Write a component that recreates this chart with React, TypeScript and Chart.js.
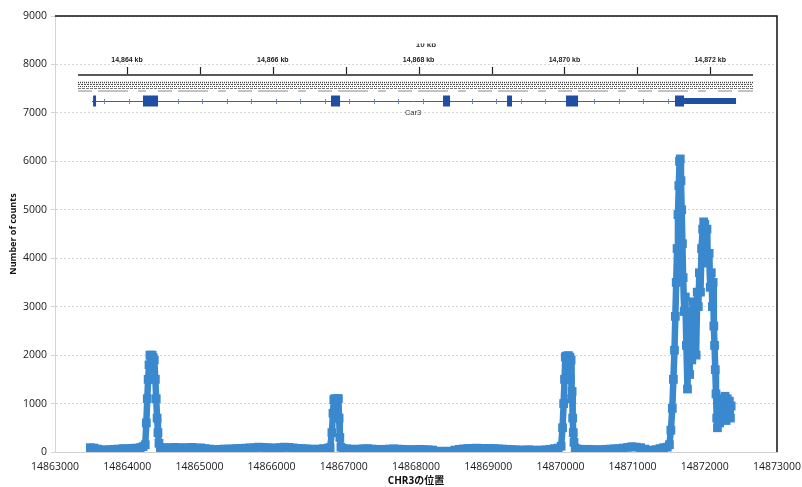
import React, { useEffect, useRef } from 'react';
import { Chart, registerables } from 'chart.js';

Chart.register(...registerables);

// ---- data ----
const positions: number[] = [
  // baseline A
  14863490, 14863540, 14863590, 14863640, 14863700, 14863760, 14863820, 14863880, 14863940, 14864000, 14864060, 14864120, 14864180, 14864220,
  // peak 1
  14864250, 14864265, 14864278, 14864290, 14864302, 14864315, 14864330, 14864345, 14864360, 14864375, 14864390, 14864402, 14864414, 14864426,
  14864440, 14864460,
  // baseline B
  14864490, 14864540, 14864600, 14864660, 14864720, 14864780, 14864840, 14864900, 14864960, 14865020, 14865080, 14865140,
  // baseline C
  14865220, 14865280, 14865340, 14865400, 14865460, 14865520, 14865580, 14865640, 14865700, 14865760, 14865820, 14865880, 14865940, 14866000,
  14866060, 14866120, 14866180, 14866240, 14866300, 14866360, 14866420, 14866480, 14866540, 14866600, 14866660, 14866720, 14866780, 14866810,
  // peak 2
  14866835, 14866850, 14866862, 14866875, 14866888, 14866900, 14866912, 14866925, 14866935, 14866945, 14866960,
  // baseline D
  14866990, 14867040, 14867090, 14867150, 14867210, 14867270, 14867330, 14867390, 14867450, 14867510, 14867570, 14867630, 14867690, 14867750,
  14867810, 14867870, 14867930, 14867990, 14868050, 14868110, 14868170, 14868230,
  // baseline E
  14868540, 14868600, 14868660, 14868720, 14868780, 14868840, 14868900, 14868960, 14869020, 14869080, 14869140, 14869200, 14869260, 14869320,
  14869380, 14869440, 14869500, 14869560, 14869620, 14869680, 14869740, 14869800, 14869860, 14869920, 14869970,
  // peak 3
  14870010, 14870030, 14870045, 14870057, 14870068, 14870082, 14870096, 14870110, 14870124, 14870132, 14870140, 14870148, 14870155, 14870162,
  14870170, 14870178, 14870188, 14870205,
  // baseline F
  14870240, 14870290, 14870340, 14870390, 14870450, 14870510, 14870570, 14870630, 14870690, 14870750, 14870810, 14870870, 14870930, 14870990,
  14871050, 14871110, 14871170, 14871210, 14871330, 14871380, 14871430, 14871480,
  // peak 4
  14871510, 14871530, 14871550, 14871565, 14871580, 14871592, 14871604, 14871616, 14871628, 14871640, 14871650, 14871660, 14871670, 14871680,
  14871690, 14871700, 14871715, 14871730, 14871745, 14871760, 14871775, 14871790, 14871805, 14871820, 14871835, 14871850, 14871865, 14871880,
  14871895, 14871910, 14871925, 14871940, 14871955, 14871970, 14871985, 14872000, 14872015, 14872030, 14872045, 14872060, 14872075, 14872090,
  14872105, 14872115, 14872125, 14872135, 14872145, 14872155, 14872165, 14872175, 14872190, 14872205, 14872220, 14872235, 14872250, 14872265,
  14872280, 14872295, 14872310, 14872325, 14872340, 14872355, 14872365,
];

const counts: number[] = [
  // baseline A
  90, 80, 60, 45, 40, 50, 55, 60, 70, 65, 75, 80, 90, 110,
  // peak 1
  150, 600, 1100, 1500, 1800, 2000, 1980, 2000, 1950, 1900, 1500, 1100, 700, 400,
  180, 80,
  // baseline B
  85, 90, 85, 95, 80, 90, 85, 95, 80, 85, 70, 60,
  // baseline C
  50, 55, 60, 60, 65, 70, 75, 80, 85, 90, 100, 95, 90, 80,
  85, 90, 100, 95, 85, 75, 70, 65, 60, 55, 60, 70, 80, 90,
  // peak 2
  400, 800, 1080, 1100, 1090, 1070, 1100, 1100, 700, 300, 100,
  // baseline D
  70, 65, 60, 55, 60, 65, 70, 60, 55, 50, 55, 60, 65, 60,
  55, 50, 45, 50, 55, 50, 45, 40,
  // baseline E
  40, 55, 65, 70, 75, 80, 75, 70, 75, 70, 65, 60, 55, 50,
  45, 40, 40, 45, 40, 35, 40, 45, 55, 70, 80,
  // peak 3
  120, 500, 1000, 1500, 1960, 1980, 1950, 1990, 1960, 1950, 1500, 1900, 1100, 1250,
  700, 400, 200, 80,
  // baseline F
  60, 55, 50, 55, 50, 45, 50, 55, 60, 65, 70, 80, 95, 110,
  100, 90, 60, 40, 50, 70, 90, 100,
  // peak 4
  150, 450, 900, 1500, 2100, 2800, 3500, 4200, 4900, 5500, 6000, 6050, 5600, 5000,
  4300, 3600, 2900, 3200, 2200, 1300, 2600, 1600, 2900, 1900, 3100, 2300, 2900, 2000,
  3300, 3000, 3700, 3300, 4200, 4600, 4750, 4700, 4400, 4600, 3900, 4100, 3400, 3700,
  3000, 3500, 2600, 2200, 1700, 1200, 700, 500, 900, 600, 1100, 700, 1100, 800,
  1150, 650, 1100, 750, 1050, 700, 950,
];

const xMin = 14863000;
const xMax = 14873000;
const xStep = 1000;
const yMin = 0;
const yMax = 9000;
const yStep = 1000;

// genome-browser inset (kb)
const insetTicksKb: number[] = [14864, 14865, 14866, 14867, 14868, 14869, 14870, 14871, 14872];
const insetLabelsKb: number[] = [14864, 14866, 14868, 14870, 14872];
const exonStartKb: number[] = [14863.534, 14864.219, 14866.798, 14868.335, 14869.213, 14870.022, 14871.517];
const exonEndKb: number[] = [14863.575, 14864.425, 14866.922, 14868.431, 14869.281, 14870.187, 14871.641];
const utrStartKb = 14871.641;
const utrEndKb = 14872.354;
const geneStartKb = 14863.52;
const geneEndKb = 14872.34;
const rulerStartKb = 14863.328;
const rulerEndKb = 14872.587;
const geneName = 'Car3';
const geneLabelKb = 14867.923;
const scaleBarText = '10 kb';
const scaleBarKb = 14868.1;

const BLUE = 'rgb(58,136,206)';
const EXON = '#1f4ea3';

const fmtKb = (kb: number) => {
  const s = String(kb);
  return s.slice(0, 2) + ',' + s.slice(2) + ' kb';
};

const insetPlugin = {
  id: 'insetPlugin',
  afterDraw(chart: any) {
    const ctx = chart.ctx as CanvasRenderingContext2D;
    const { left, right, top, bottom } = chart.chartArea;
    const xi = chart.scales.xi;
    const px = (kb: number) => xi.getPixelForValue(kb * 1000);
    ctx.save();

    // chart frame (top + right)
    ctx.strokeStyle = '#111';
    ctx.lineWidth = 1.5;
    ctx.beginPath();
    ctx.moveTo(left, top);
    ctx.lineTo(right, top);
    ctx.lineTo(right, bottom);
    ctx.stroke();

    // clipped scale bar label
    ctx.save();
    ctx.beginPath();
    ctx.rect(left, top + 27.5, right - left, 20);
    ctx.clip();
    ctx.fillStyle = '#333';
    ctx.font = 'bold 8px "Liberation Sans", Arial, sans-serif';
    ctx.textAlign = 'center';
    ctx.textBaseline = 'alphabetic';
    ctx.fillText(scaleBarText, px(scaleBarKb), top + 31);
    ctx.restore();

    // ruler
    const rulerY = top + 59;
    ctx.strokeStyle = '#222';
    ctx.lineWidth = 1.3;
    ctx.beginPath();
    ctx.moveTo(px(rulerStartKb), rulerY);
    ctx.lineTo(px(rulerEndKb), rulerY);
    ctx.stroke();
    ctx.lineWidth = 1.2;
    insetTicksKb.forEach((kb) => {
      const x = Math.round(px(kb)) + 0.5;
      ctx.beginPath();
      ctx.moveTo(x, rulerY - 8);
      ctx.lineTo(x, rulerY - 1);
      ctx.stroke();
    });
    ctx.fillStyle = '#222';
    ctx.font = 'bold 7px "Liberation Sans", Arial, sans-serif';
    ctx.textAlign = 'center';
    ctx.textBaseline = 'middle';
    insetLabelsKb.forEach((kb) => {
      ctx.fillText(fmtKb(kb), px(kb), top + 44);
    });

    // dense track lines
    const x0 = px(rulerStartKb);
    const x1 = px(rulerEndKb);
    const lines: [number, string, number[], number][] = [
      [66.5, '#444', [1, 1], 1.5],
      [68.5, '#555', [2, 1], 1],
      [70.5, '#444', [1, 1], 1],
      [72.5, '#777', [3, 1], 1],
      [75, '#888', [14, 6, 30, 10, 8, 12], 1],
    ];
    lines.forEach(([dy, col, dash, w]) => {
      ctx.strokeStyle = col;
      ctx.lineWidth = w;
      ctx.setLineDash(dash);
      ctx.beginPath();
      ctx.moveTo(x0, top + dy);
      ctx.lineTo(x1, top + dy);
      ctx.stroke();
    });
    ctx.setLineDash([]);

    // gene model
    const gy = top + 85;
    const g0 = px(geneStartKb);
    const g1 = px(geneEndKb);
    ctx.strokeStyle = '#3a5fb0';
    ctx.lineWidth = 1;
    ctx.beginPath();
    ctx.moveTo(g0, gy + 0.5);
    ctx.lineTo(g1, gy + 0.5);
    ctx.stroke();
    // strand marks
    ctx.strokeStyle = '#6a85c4';
    for (let x = g0 + 12; x < px(utrStartKb) - 4; x += 24.5) {
      const inside = exonStartKb.some((s, i) => x > px(s) - 3 && x < px(exonEndKb[i]) + 3);
      if (inside) continue;
      ctx.beginPath();
      ctx.moveTo(Math.round(x) + 0.5, gy - 2);
      ctx.lineTo(Math.round(x) + 0.5, gy + 3);
      ctx.stroke();
    }
    ctx.fillStyle = EXON;
    exonStartKb.forEach((s, i) => {
      const a = px(s);
      const b = px(exonEndKb[i]);
      ctx.fillRect(a, gy - 5.5, Math.max(2.5, b - a), 11);
    });
    ctx.fillRect(px(utrStartKb), gy - 3, px(utrEndKb) - px(utrStartKb), 6);

    ctx.fillStyle = '#333';
    ctx.font = '7.5px "Liberation Sans", Arial, sans-serif';
    ctx.textAlign = 'center';
    ctx.textBaseline = 'middle';
    ctx.fillText(geneName, px(geneLabelKb), top + 96.5);

    ctx.restore();
  },
};

export default function App() {
  const ref = useRef<HTMLCanvasElement | null>(null);

  useEffect(() => {
    document.body.style.margin = '0';
    const canvas = ref.current;
    if (!canvas) return;
    const font = '"Open Sans", "Noto Sans CJK JP", sans-serif';
    const chart = new Chart(canvas, {
      type: 'scatter',
      data: {
        datasets: [
          {
            data: positions.map((x, i) => ({ x, y: counts[i] })),
            showLine: true,
            borderColor: BLUE,
            backgroundColor: BLUE,
            borderWidth: 6.5,
            borderJoinStyle: 'bevel',
            borderCapStyle: 'butt',
            pointStyle: 'rect',
            pointRadius: 6.2,
            pointBorderWidth: 0,
            pointHoverRadius: 6.2,
            xAxisID: 'x',
            yAxisID: 'y',
          },
        ],
      },
      options: {
        animation: false,
        responsive: false,
        maintainAspectRatio: false,
        events: [],
        layout: { padding: { top: 16, right: 25, left: 0, bottom: 0 } },
        plugins: {
          legend: { display: false },
          tooltip: { enabled: false },
        },
        scales: {
          x: {
            type: 'linear',
            min: xMin,
            max: xMax,
            ticks: {
              stepSize: xStep,
              callback: (v: any) => String(v),
              color: '#1a1a1a',
              font: { family: font, size: 10.5 },
              padding: 9,
              maxRotation: 0,
              autoSkip: false,
            },
            grid: { display: false, drawTicks: false },
            border: { display: true, color: '#cfcfcf' },
            title: {
              display: true,
              text: 'CHR3の位置',
              color: '#111',
              font: { family: font, size: 10, weight: 'bold' },
              padding: { top: 0, bottom: 0 },
            },
            afterFit: (s: any) => {
              s.height = 35;
              s.paddingRight = 0;
              s.paddingLeft = 0;
            },
          },
          xi: {
            type: 'linear',
            display: false,
            min: 14863012,
            max: 14872916,
          },
          y: {
            type: 'linear',
            min: yMin,
            max: yMax,
            ticks: {
              stepSize: yStep,
              callback: (v: any) => String(v),
              color: '#1a1a1a',
              font: { family: font, size: 10.5 },
              padding: 4,
            },
            grid: { color: 'rgba(0,0,0,0.16)', tickLength: 4, lineWidth: 1 },
            border: { display: true, color: '#d5d5d5', dash: [2, 2] },
            title: {
              display: true,
              text: 'Number of counts',
              color: '#111',
              font: { family: font, size: 9, weight: 'bold' },
              padding: { top: 8, bottom: 0 },
            },
            afterFit: (s: any) => {
              s.width = 55;
            },
          },
        },
      },
      plugins: [insetPlugin],
    } as any);
    return () => chart.destroy();
  }, []);

  return <canvas ref={ref} width={802} height={487} style={{ display: 'block' }} />;
}
